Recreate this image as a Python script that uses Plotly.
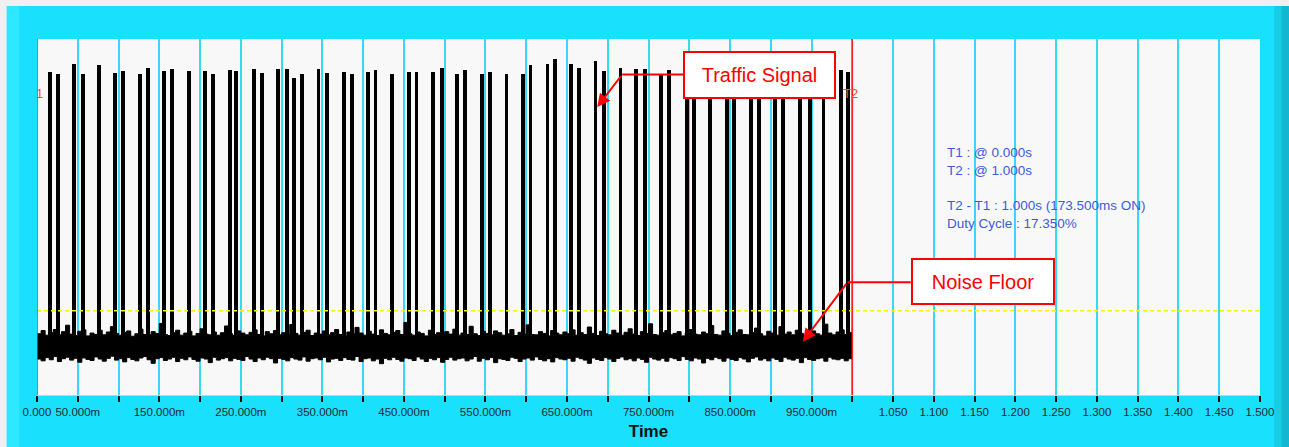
import plotly.graph_objects as go

# ---------------- data ----------------
# pulse centre times (ms) and pulse top amplitudes (arbitrary units, 0-100 display scale)
pulse_times_ms = [16.3, 25.8, 45.7, 56.2, 76.0, 95.6, 105.8, 125.8, 136.1, 156.3,
                  165.5, 186.4, 206.0, 215.6, 236.2, 244.6, 266.1, 276.3, 295.5, 306.1,
                  315.1, 325.3, 345.3, 356.0, 376.0, 386.0, 406.0, 415.2, 435.7, 456.2,
                  465.5, 485.6, 496.4, 515.4, 525.4, 545.7, 555.5, 575.8, 596.0, 605.3,
                  626.1, 635.6, 655.5, 665.0, 685.0, 695.6, 715.6, 735.2, 745.5, 765.8,
                  775.3, 796.8, 805.6, 825.4, 845.8, 855.0, 875.5, 885.3, 905.3, 914.8,
                  935.6, 948.2, 964.6, 985.9, 995.2]
pulse_tops = [90.8, 90.2, 93.0, 90.2, 92.7, 90.4, 91.0, 90.2, 91.9, 91.0,
              91.6, 91.0, 91.0, 90.2, 91.3, 91.0, 91.6, 90.4, 91.6, 91.6,
              89.0, 90.2, 91.6, 90.4, 90.7, 90.2, 90.7, 91.3, 90.2, 90.7,
              90.7, 90.7, 91.9, 90.2, 91.3, 90.2, 90.7, 90.2, 90.2, 92.7,
              93.0, 94.4, 93.0, 91.8, 93.8, 91.0, 91.9, 91.6, 91.6, 89.9,
              91.3, 91.0, 90.7, 91.3, 90.4, 91.0, 90.7, 91.3, 90.4, 91.0,
              90.7, 91.3, 90.4, 91.3, 90.7]

# noise floor envelope, sampled every 5 ms from 0 to 1000 ms
noise_upper = [17.2, 18.1, 16.8, 17.5, 18.4, 16.9, 17.8, 19.6, 17.1, 16.7,
               17.9, 18.3, 16.6, 17.4, 17.0, 18.2, 16.9, 17.7, 19.2, 17.3,
               16.8, 17.6, 18.0, 16.5, 17.2, 18.5, 17.0, 16.9, 17.8, 17.3,
               20.1, 17.0, 16.7, 17.5, 18.2, 16.8, 17.4, 17.9, 16.6, 17.3,
               18.6, 17.1, 16.9, 17.7, 16.8, 17.5, 19.4, 17.2, 16.7, 18.0,
               17.4, 16.9, 17.6, 18.3, 17.0, 16.6, 17.8, 17.2, 18.1, 16.9,
               17.5, 17.0, 19.8, 17.3, 16.8, 17.6, 18.2, 16.7, 17.4, 17.1,
               18.0, 16.9, 17.5, 18.4, 17.0, 16.6, 17.7, 17.2, 19.0, 17.4,
               16.8, 17.9, 17.1, 16.7, 18.3, 17.3, 16.9, 17.6, 18.1, 17.0,
               20.4, 17.2, 16.8, 17.7, 17.3, 16.6, 18.2, 17.0, 17.5, 16.9,
               17.8, 17.1, 18.5, 16.8, 17.4, 17.0, 19.3, 17.2, 16.7, 17.9,
               17.3, 16.9, 18.0, 17.5, 16.8, 17.2, 18.4, 16.7, 17.6, 17.1,
               19.7, 17.0, 16.9, 17.8, 17.3, 16.6, 18.1, 17.4, 16.9, 17.7,
               17.2, 18.3, 16.8, 17.5, 17.0, 19.1, 17.3, 16.7, 17.9, 17.2,
               16.9, 18.2, 17.4, 16.8, 17.6, 18.6, 17.1, 16.7, 17.8, 17.3,
               20.0, 17.0, 16.8, 17.5, 18.1, 16.9, 17.3, 17.8, 16.6, 17.4,
               18.4, 17.1, 16.9, 17.7, 17.2, 19.5, 17.0, 16.8, 18.0, 17.3,
               16.7, 17.6, 18.3, 17.0, 16.9, 17.5, 18.8, 17.2, 16.6, 17.9,
               17.4, 16.8, 19.2, 17.1, 17.7, 16.9, 18.2, 17.3, 16.7, 17.6,
               18.0, 17.2, 16.8, 19.9, 17.4, 16.9, 17.7, 18.3, 17.0, 17.5,
               18.1]
noise_lower = [10.1, 9.6, 10.5, 9.9, 10.8, 9.4, 10.2, 10.6, 9.8, 10.3,
               9.2, 10.4, 10.0, 9.7, 10.7, 10.1, 9.5, 10.3, 10.9, 9.8,
               10.2, 9.3, 10.5, 10.0, 9.6, 10.4, 10.8, 9.9, 8.9, 10.2,
               10.5, 9.7, 10.1, 10.6, 9.4, 10.3, 9.9, 10.7, 10.0, 9.5,
               10.4, 10.1, 9.1, 10.6, 9.8, 10.2, 10.5, 9.6, 10.3, 10.0,
               9.7, 10.8, 10.1, 9.4, 10.4, 9.9, 10.6, 10.2, 9.0, 10.3,
               10.0, 9.6, 10.5, 10.1, 9.8, 10.7, 9.5, 10.2, 10.4, 9.9,
               10.6, 9.3, 10.1, 10.3, 9.7, 10.5, 10.0, 9.8, 10.8, 9.4,
               10.2, 10.4, 9.6, 10.1, 8.8, 10.3, 9.9, 10.6, 10.0, 9.5,
               10.4, 10.2, 9.7, 10.7, 10.1, 9.4, 10.3, 9.9, 10.5, 9.2,
               10.0, 10.6, 9.8, 10.2, 10.4, 9.6, 10.1, 10.8, 9.5, 10.3,
               9.9, 10.5, 9.1, 10.2, 10.0, 9.7, 10.6, 10.3, 9.4, 10.1,
               10.4, 9.8, 10.7, 10.0, 9.6, 10.2, 9.3, 10.5, 10.1, 9.9,
               10.3, 9.5, 10.6, 10.2, 9.8, 8.9, 10.4, 10.0, 9.7, 10.5,
               10.1, 9.4, 10.3, 10.7, 9.9, 10.2, 9.6, 10.4, 10.0, 9.2,
               10.6, 10.1, 9.8, 10.3, 9.5, 10.5, 10.2, 9.7, 10.8, 10.0,
               9.6, 10.4, 10.1, 9.0, 10.3, 9.9, 10.6, 10.2, 9.5, 10.4,
               10.0, 9.7, 10.5, 10.1, 9.3, 10.3, 10.7, 9.8, 10.2, 9.6,
               10.4, 10.0, 9.4, 10.6, 10.1, 9.8, 10.3, 9.1, 10.5, 10.0,
               9.7, 10.2, 10.4, 9.5, 10.6, 10.1, 9.9, 10.3, 9.6, 10.2,
               10.0]
noise_step_ms = 5

threshold_level = 23.7
cursor_times = [0.0, 1.0]
cursor_labels = ["1", "T2"]

tick_values = [i * 0.05 for i in range(31)]
tick_labels = ["0.000", "50.000m", "", "150.000m", "", "250.000m", "", "350.000m", "",
               "450.000m", "", "550.000m", "", "650.000m", "", "750.000m", "", "850.000m", "",
               "950.000m", "", "1.050", "1.100", "1.150", "1.200", "1.250", "1.300", "1.350",
               "1.400", "1.450", "1.500"]

info_lines = ["T1 : @ 0.000s", "T2 : @ 1.000s", "T2 - T1 : 1.000s (173.500ms ON)",
              "Duty Cycle : 17.350%"]

# ---------------- figure ----------------
CYAN = "#19e0fc"
FONT = "Arial, Liberation Sans, sans-serif"
pulse_base = 12.0

noise_x = [i * noise_step_ms / 1000 for i in range(len(noise_upper))]

fig = go.Figure()
fig.add_trace(go.Scatter(x=noise_x, y=noise_lower, mode="lines",
                         line=dict(color="black", width=1, shape="hv"), hoverinfo="skip"))
fig.add_trace(go.Scatter(x=noise_x, y=noise_upper, mode="lines", fill="tonexty",
                         fillcolor="black", line=dict(color="black", width=1, shape="hv"),
                         hoverinfo="skip"))
fig.add_trace(go.Bar(x=[t / 1000 for t in pulse_times_ms],
                     y=[v - pulse_base for v in pulse_tops],
                     base=pulse_base, width=0.0048,
                     marker=dict(color="black", line=dict(width=0))))

shapes = []
# threshold line
shapes.append(dict(type="line", xref="paper", yref="y", x0=0, x1=1,
                   y0=threshold_level, y1=threshold_level,
                   line=dict(color="#f5f500", width=1.5, dash="4px,3px")))
# cursors
for ct in cursor_times:
    shapes.append(dict(type="line", xref="x", yref="paper", x0=ct, x1=ct, y0=0, y1=1,
                       line=dict(color="#ff2020", width=1.5)))
# panel decorations (outside plot area)
shapes += [
    dict(type="rect", xref="paper", yref="paper", x0=-0.04, x1=1.04, y0=1.0927, y1=1.13,
         fillcolor="#f0f0f0", line=dict(width=0), layer="below"),
    dict(type="rect", xref="paper", yref="paper", x0=-0.04, x1=-0.0247, y0=-0.2, y1=1.13,
         fillcolor="#f0f0f0", line=dict(width=0), layer="below"),
    dict(type="rect", xref="paper", yref="paper", x0=-0.0247, x1=-0.0145, y0=-0.2, y1=1.0927,
         fillcolor="#2ee8ff", line=dict(width=0), layer="below"),
    dict(type="rect", xref="paper", yref="paper", x0=1.0115, x1=1.0175, y0=-0.2, y1=1.0927,
         fillcolor="#17cde6", line=dict(width=0), layer="below"),
    dict(type="rect", xref="paper", yref="paper", x0=1.0175, x1=1.04, y0=-0.2, y1=1.0927,
         fillcolor="#13b7cf", line=dict(width=0), layer="below"),
]
# annotation leader segments
shapes.append(dict(type="line", xref="x", yref="y", x0=0.7177, x1=0.7925, y0=90.03, y1=90.03,
                   line=dict(color="#ff0000", width=2)))
shapes.append(dict(type="line", xref="x", yref="y", x0=0.994, x1=1.0717, y0=31.66, y1=31.66,
                   line=dict(color="#ff0000", width=2)))

annotations = []
# cursor labels
annotations.append(dict(x=0.0028, y=84.75, xref="x", yref="y", text=cursor_labels[0],
                        showarrow=False, font=dict(family=FONT, size=13, color="#ff4d1a")))
annotations.append(dict(x=0.9979, y=84.75, xref="x", yref="y", text=cursor_labels[1],
                        showarrow=False, font=dict(family=FONT, size=13, color="#ff4d1a")))
# info text
for txt, yv in zip(info_lines, [68.2, 63.2, 53.2, 48.2]):
    annotations.append(dict(x=1.1141, y=yv, xref="x", yref="y", text=txt, showarrow=False,
                            xanchor="left", yanchor="middle",
                            font=dict(family=FONT, size=13.5, color="#3d5be0")))
# callout boxes
annotations.append(dict(x=0.8863, y=89.89, xref="x", yref="y", text="Traffic Signal",
                        showarrow=False, width=149, height=44, bgcolor="white",
                        bordercolor="#ff0000", borderwidth=2, borderpad=0,
                        font=dict(family=FONT, size=20, color="#ff0000")))
annotations.append(dict(x=1.1603, y=31.83, xref="x", yref="y", text="Noise Floor",
                        showarrow=False, width=140, height=43, bgcolor="white",
                        bordercolor="#ff0000", borderwidth=2, borderpad=0,
                        font=dict(family=FONT, size=20, color="#ff0000")))
# arrows
annotations.append(dict(x=0.6871, y=80.9, xref="x", yref="y", ax=0.7177, ay=90.03,
                        axref="x", ayref="y", text="", showarrow=True, arrowhead=2,
                        arrowsize=1.3, arrowwidth=2, arrowcolor="#ff0000"))
annotations.append(dict(x=0.9393, y=14.97, xref="x", yref="y", ax=0.994, ay=31.66,
                        axref="x", ayref="y", text="", showarrow=True, arrowhead=2,
                        arrowsize=1.3, arrowwidth=2, arrowcolor="#ff0000"))

fig.update_layout(
    width=1289, height=447,
    margin=dict(l=37, r=29, t=39, b=52, pad=0),
    paper_bgcolor=CYAN, plot_bgcolor="#f8f8f8",
    showlegend=False, bargap=0,
    shapes=shapes, annotations=annotations,
    font=dict(family=FONT),
    xaxis=dict(range=[0, 1.5], tickmode="array", tickvals=tick_values, ticktext=tick_labels,
               showgrid=True, gridcolor="#3ad8f6", gridwidth=1.5, zeroline=False,
               ticks="outside", ticklen=6, tickwidth=1.5, tickcolor="#111111",
               showline=True, linecolor="#8fe9fb", linewidth=1, automargin=False,
               tickfont=dict(family=FONT, size=11.5, color="#1b2b33"),
               title=dict(text="<b>Time</b>", font=dict(family=FONT, size=17, color="#111111"),
                          standoff=8)),
    yaxis=dict(range=[0, 100], visible=False, showgrid=False, zeroline=False,
               automargin=False),
)

fig.write_html("out.html", config={"displayModeBar": False})

# remove the default page margin so the figure sits at the window origin
with open("out.html", "r", encoding="utf-8") as fh:
    html = fh.read()
html = html.replace("<head>", "<head><style>html,body{margin:0;padding:0;overflow:hidden;}</style>", 1)
with open("out.html", "w", encoding="utf-8") as fh:
    fh.write(html)
